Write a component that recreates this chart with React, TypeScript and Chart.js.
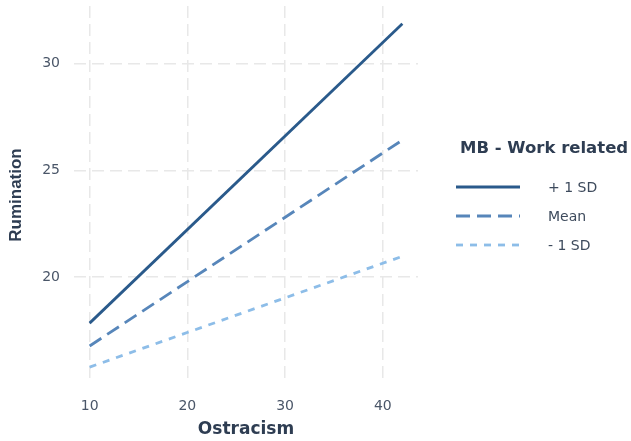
import React, { useEffect, useRef } from "react";
import { Chart, registerables } from "chart.js";

Chart.register(...registerables);

const xValues = [10, 42];
const plusSD = [17.85, 31.87];
const meanVals = [16.78, 26.42];
const minusSD = [15.79, 20.98];
const seriesLabels = ["+ 1 SD", "Mean", "- 1 SD"];
const legendTitle = "MB - Work related";
const xTicks = [10, 20, 30, 40];
const yTicks = [20, 25, 30];

const colors = ["#2a5a8b", "#5786ba", "#8dbde8"];
const dashes: number[][] = [[], [14, 7], [7, 7]];
const FONT = "'DejaVu Sans', sans-serif";

const legendPlugin = {
  id: "customLegend",
  afterDraw(chart: any) {
    const ctx = chart.ctx;
    ctx.save();
    ctx.fillStyle = "#2e3d52";
    ctx.font = `bold 16.5px ${FONT}`;
    ctx.textBaseline = "middle";
    ctx.textAlign = "left";
    ctx.fillText(legendTitle, 460, 149);
    const ys = [187, 216, 245];
    seriesLabels.forEach((lab, i) => {
      ctx.beginPath();
      ctx.strokeStyle = colors[i];
      ctx.lineWidth = 2.8;
      ctx.setLineDash(dashes[i]);
      ctx.moveTo(456, ys[i]);
      ctx.lineTo(520, ys[i]);
      ctx.stroke();
      ctx.setLineDash([]);
      ctx.fillStyle = "#3d4a5c";
      ctx.font = `14px ${FONT}`;
      ctx.fillText(lab, 548, ys[i] + 1);
    });
    ctx.restore();
  },
};

export default function App() {
  const ref = useRef<HTMLCanvasElement>(null);
  useEffect(() => {
    document.body.style.margin = "0";
    const mk = (vals: number[], i: number) => ({
      label: seriesLabels[i],
      data: xValues.map((x, j) => ({ x, y: vals[j] })),
      borderColor: colors[i],
      borderWidth: 2.8,
      borderDash: dashes[i],
      pointRadius: 0,
      fill: false,
    });
    const chart = new Chart(ref.current!, {
      type: "line",
      data: { datasets: [mk(plusSD, 0), mk(meanVals, 1), mk(minusSD, 2)] },
      options: {
        animation: false,
        responsive: false,
        layout: { autoPadding: false, padding: { top: 6, right: 213, left: 0, bottom: 0 } },
        plugins: { legend: { display: false }, title: { display: false }, tooltip: { enabled: false } },
        scales: {
          x: {
            type: "linear",
            min: 8.4,
            max: 43.6,
            afterBuildTicks: (axis: any) => {
              axis.ticks = xTicks.map((v) => ({ value: v }));
            },
            afterFit: (axis: any) => {
              axis.height = 57;
              axis.paddingLeft = 0;
              axis.paddingRight = 0;
              axis.paddingTop = 0;
              axis.paddingBottom = 0;
            },
            grid: {
              color: "#e8e8e8",
              lineWidth: 1.5,
              drawTicks: false,
            },
            border: { display: false, dash: [12, 6] },
            ticks: {
              color: "#4a5668",
              font: { size: 14, family: FONT },
              padding: 14,
            },
            title: {
              display: true,
              text: "Ostracism",
              color: "#2e3d52",
              font: { size: 17, weight: "bold", family: FONT },
              padding: { top: 2, bottom: 1 },
            },
          },
          y: {
            type: "linear",
            min: 15.0,
            max: 32.7,
            afterBuildTicks: (axis: any) => {
              axis.ticks = yTicks.map((v) => ({ value: v }));
            },
            afterFit: (axis: any) => {
              axis.width = 74;
              axis.paddingLeft = 0;
              axis.paddingRight = 0;
              axis.paddingTop = 0;
              axis.paddingBottom = 0;
            },
            grid: {
              color: "#e8e8e8",
              lineWidth: 1.5,
              drawTicks: false,
            },
            border: { display: false, dash: [12, 6] },
            ticks: {
              color: "#4a5668",
              font: { size: 14, family: FONT },
              padding: 14,
            },
            title: {
              display: true,
              text: "Rumination",
              color: "#2e3d52",
              font: { size: 17, weight: "bold", family: "'Liberation Sans', Arial, sans-serif" },
              padding: { top: 6, bottom: 4 },
            },
          },
        },
      },
      plugins: [legendPlugin],
    });
    return () => chart.destroy();
  }, []);
  return <canvas ref={ref} width={631} height={441} style={{ display: "block" }} />;
}
